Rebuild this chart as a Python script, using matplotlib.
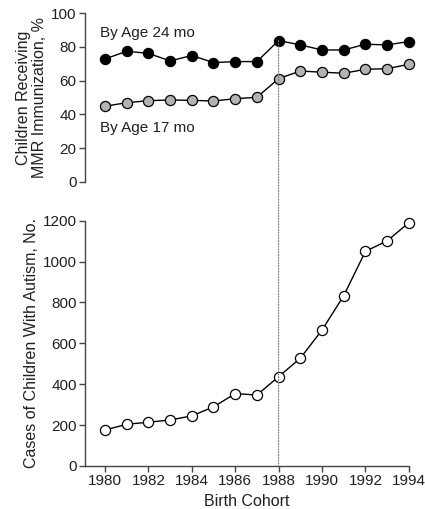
import numpy as np
import matplotlib
matplotlib.use("Agg")
from matplotlib import pyplot as plt
from matplotlib.patches import ConnectionPatch

plt.rcParams['font.family'] = ['Liberation Sans', 'DejaVu Sans']

# Birth cohorts and series
years = [1980, 1981, 1982, 1983, 1984, 1985, 1986, 1987,
         1988, 1989, 1990, 1991, 1992, 1993, 1994]
mmr_24mo = [72.9, 77.4, 76.2, 71.7, 74.9, 70.7, 71.3, 71.3,
            83.8, 81.2, 78.2, 78.2, 81.6, 81.2, 83.2]
mmr_17mo = [44.8, 46.9, 48.1, 48.5, 48.3, 47.9, 49.3, 50.1,
            61.2, 65.7, 65.0, 64.4, 66.7, 67.1, 69.7]
autism_cases = [176, 204, 214, 225, 245, 289, 354, 347,
                437, 527, 665, 833, 1050, 1101, 1190]
xticks = [1980, 1982, 1984, 1986, 1988, 1990, 1992, 1994]
split_year = 1988

txt = '#231f20'
spine = '#444444'

fig = plt.figure(figsize=(4.25, 5.09), dpi=100)
ax_top = fig.add_axes([0.2, 0.643, 0.762, 0.331])
ax_bot = fig.add_axes([0.2, 0.0845, 0.762, 0.482])

mk = dict(marker='o', markersize=7.3, markeredgecolor='black',
          markeredgewidth=0.9, color='black', linewidth=1.0, clip_on=False)

# top panel: MMR coverage
ax_top.plot(years, mmr_24mo, markerfacecolor='black', zorder=3, **mk)
ax_top.plot(years, mmr_17mo, markerfacecolor='#b3b3b3', zorder=3, **mk)
ax_top.set_xlim(1979.08, 1994)
ax_top.set_ylim(0, 100)
ax_top.set_yticks([0, 20, 40, 60, 80, 100])
ax_top.set_xticks([])
for s in ['top', 'right', 'bottom']:
    ax_top.spines[s].set_visible(False)
ax_top.text(1979.77, 88.1, 'By Age 24 mo', fontsize=11, color=txt, va='center')
ax_top.text(1979.77, 31.8, 'By Age 17 mo', fontsize=11, color=txt, va='center')
ax_top.set_ylabel('Children Receiving\nMMR Immunization, %', fontsize=11.5,
                  color=txt, labelpad=3, linespacing=1.05)

# bottom panel: autism cases
ax_bot.plot(years, autism_cases, markerfacecolor='white', zorder=3, **mk)
ax_bot.set_xlim(1979.08, 1994)
ax_bot.set_ylim(0, 1200)
ax_bot.set_yticks([0, 200, 400, 600, 800, 1000, 1200])
ax_bot.set_xticks(xticks)
for s in ['top', 'right']:
    ax_bot.spines[s].set_visible(False)
ax_bot.set_xlabel('Birth Cohort', fontsize=11.5, color=txt, labelpad=4)
ax_bot.set_ylabel('Cases of Children With Autism, No.', fontsize=11.5,
                  color=txt, labelpad=3)

for ax in (ax_top, ax_bot):
    for s in ['left', 'bottom']:
        ax.spines[s].set_color(spine)
        ax.spines[s].set_linewidth(1.0)
    ax.tick_params(direction='out', length=4, width=1.0, color=spine,
                   labelsize=11, labelcolor=txt, pad=2)

# dotted marker line at 1988, running across both panels
idx = years.index(split_year)
con = ConnectionPatch(xyA=(split_year, mmr_24mo[idx]), coordsA=ax_top.transData,
                      xyB=(split_year, 0), coordsB=ax_bot.transData,
                      color='#777777', linestyle=(0, (1, 1.5)), linewidth=0.8,
                      zorder=1)
fig.add_artist(con)

fig.savefig('out.png', dpi=100)
